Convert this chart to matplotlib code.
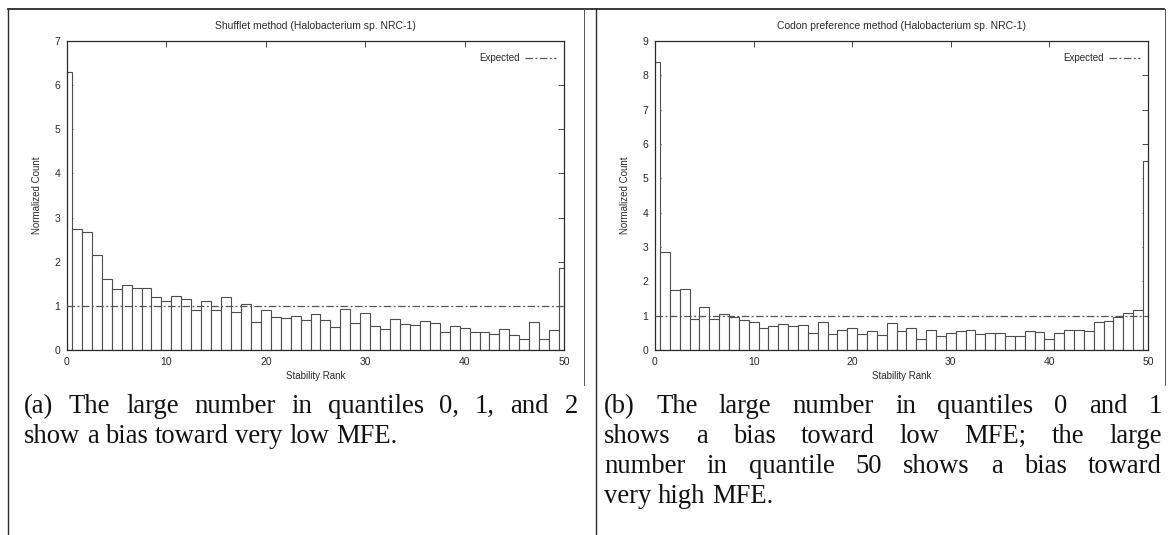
import matplotlib
matplotlib.use("Agg")
import matplotlib.pyplot as plt
from matplotlib.lines import Line2D

# ---- data -------------------------------------------------------------
ranks = list(range(51))

shufflet_counts = [6.30, 2.74, 2.68, 2.16, 1.60, 1.39, 1.48, 1.41, 1.41, 1.19,
                   1.12, 1.22, 1.15, 0.91, 1.10, 0.90, 1.19, 0.86, 1.05, 0.63,
                   0.90, 0.75, 0.72, 0.78, 0.69, 0.81, 0.67, 0.52, 0.92, 0.62,
                   0.83, 0.54, 0.47, 0.70, 0.58, 0.57, 0.65, 0.62, 0.40, 0.54,
                   0.50, 0.40, 0.40, 0.36, 0.47, 0.33, 0.26, 0.63, 0.26, 0.45,
                   1.85]

codon_counts = [8.38, 2.86, 1.74, 1.77, 0.90, 1.25, 0.90, 1.04, 0.95, 0.86,
                0.81, 0.63, 0.69, 0.76, 0.69, 0.72, 0.49, 0.81, 0.46, 0.59,
                0.63, 0.46, 0.54, 0.44, 0.80, 0.54, 0.63, 0.31, 0.59, 0.42,
                0.49, 0.54, 0.59, 0.46, 0.50, 0.50, 0.42, 0.42, 0.55, 0.53,
                0.31, 0.49, 0.59, 0.59, 0.55, 0.82, 0.84, 0.95, 1.09, 1.16,
                5.50]

expected_level = 1.0

titles = ["Shufflet method (Halobacterium sp. NRC-1)",
          "Codon preference method (Halobacterium sp. NRC-1)"]
x_label = "Stability Rank"
y_label = "Normalized Count"
legend_label = "Expected"

caption_a = ["(a) The large number in quantiles 0, 1, and 2",
             "show a bias toward very low MFE."]
caption_b = ["(b) The large number in quantiles 0 and 1",
             "shows a bias toward low MFE; the large",
             "number in quantile 50 shows a bias toward",
             "very high MFE."]

# ---- figure -----------------------------------------------------------
W, H = 1168, 535
fig = plt.figure(figsize=(W / 100, H / 100), dpi=100)
fig.patch.set_facecolor("white")

SANS = "Liberation Sans"
SERIF = "Liberation Serif"
INK = "#2a2a2a"


def fx(px):
    return px / W


def fy(py):
    return 1 - py / H


def fig_line(x0, y0, x1, y1, lw=1.0, color=INK):
    fig.add_artist(Line2D([fx(x0), fx(x1)], [fy(y0), fy(y1)],
                          transform=fig.transFigure, color=color, lw=lw))


def histogram_panel(left, right, counts, ymax, title, legend_right):
    ax = fig.add_axes([fx(left), fy(350), fx(right) - fx(left), fy(41) - fy(350)])
    ax.bar(ranks, counts, width=1.0, align="center", color="white",
           edgecolor="#4d4d4d", linewidth=0.8, zorder=2)
    ax.plot([0, 50], [expected_level, expected_level], color="#555555",
            lw=0.9, dashes=(6, 2, 1.5, 2), zorder=3)
    ax.set_xlim(0, 50)
    ax.set_ylim(0, ymax)
    ax.set_xticks(range(0, 51, 10))
    ax.set_yticks(range(0, ymax + 1))
    ax.tick_params(direction="in", length=4, width=0.6, top=True, right=True,
                   labelsize=7.5, colors=INK, pad=5)
    for lab in ax.get_xticklabels() + ax.get_yticklabels():
        lab.set_family(SANS)
    for sp in ax.spines.values():
        sp.set_linewidth(0.9)
        sp.set_color(INK)
    ax.set_xlabel(x_label, family=SANS, fontsize=7, color=INK, labelpad=3)
    ax.set_ylabel(y_label, family=SANS, fontsize=7, color=INK, labelpad=9)
    fig.text(fx((left + right) / 2), fy(26), title, family=SANS, fontsize=7.5,
             color=INK, ha="center", va="center")
    # key in the upper right corner
    fig.text(fx(legend_right - 36), fy(58), legend_label, family=SANS,
             fontsize=7, color=INK, ha="right", va="center")
    fig.add_artist(Line2D([fx(legend_right - 31), fx(legend_right)], [fy(58), fy(58)],
                          transform=fig.transFigure, color="#555555", lw=0.9,
                          dashes=(6, 2, 1.5, 2)))
    return ax


histogram_panel(67, 564, shufflet_counts, 7, titles[0], 556)
histogram_panel(655, 1148, codon_counts, 9, titles[1], 1140)

# ---- table rules around the two cells ---------------------------------
fig_line(8, 9, 1164, 9, lw=1.3)
fig_line(8, 9, 8, 535, lw=1.0)
fig_line(584, 9, 584, 385, lw=0.7, color="#555555")
fig_line(596, 9, 596, 535, lw=1.0)
fig_line(1165, 9, 1165, 385, lw=0.7, color="#555555")

# ---- captions ---------------------------------------------------------
renderer = fig.canvas.get_renderer()


def text_width(s, size):
    t = fig.text(0, 0, s, family=SERIF, fontsize=size)
    w = t.get_window_extent(renderer).width
    t.remove()
    return w


cap_size = 19.2
space_w = text_width("a a", cap_size) - text_width("aa", cap_size)


def caption(lines, x0, x1, first_base, step):
    for i, line in enumerate(lines):
        words = line.split(" ")
        widths = [text_width(w, cap_size) for w in words]
        last = i == len(lines) - 1
        if not last and len(words) > 1:
            gap = (x1 - x0 - sum(widths)) / (len(words) - 1)
        else:
            gap = space_w
        x = x0
        yb = first_base + i * step
        for w, wd in zip(words, widths):
            fig.text(fx(x), fy(yb), w, family=SERIF, fontsize=cap_size,
                     color="#111111", ha="left", va="baseline")
            x += wd + gap


caption(caption_a, 24, 578, 413, 30)
caption(caption_b, 604, 1162, 413, 30)

fig.savefig("out.png", dpi=100, facecolor="white")
